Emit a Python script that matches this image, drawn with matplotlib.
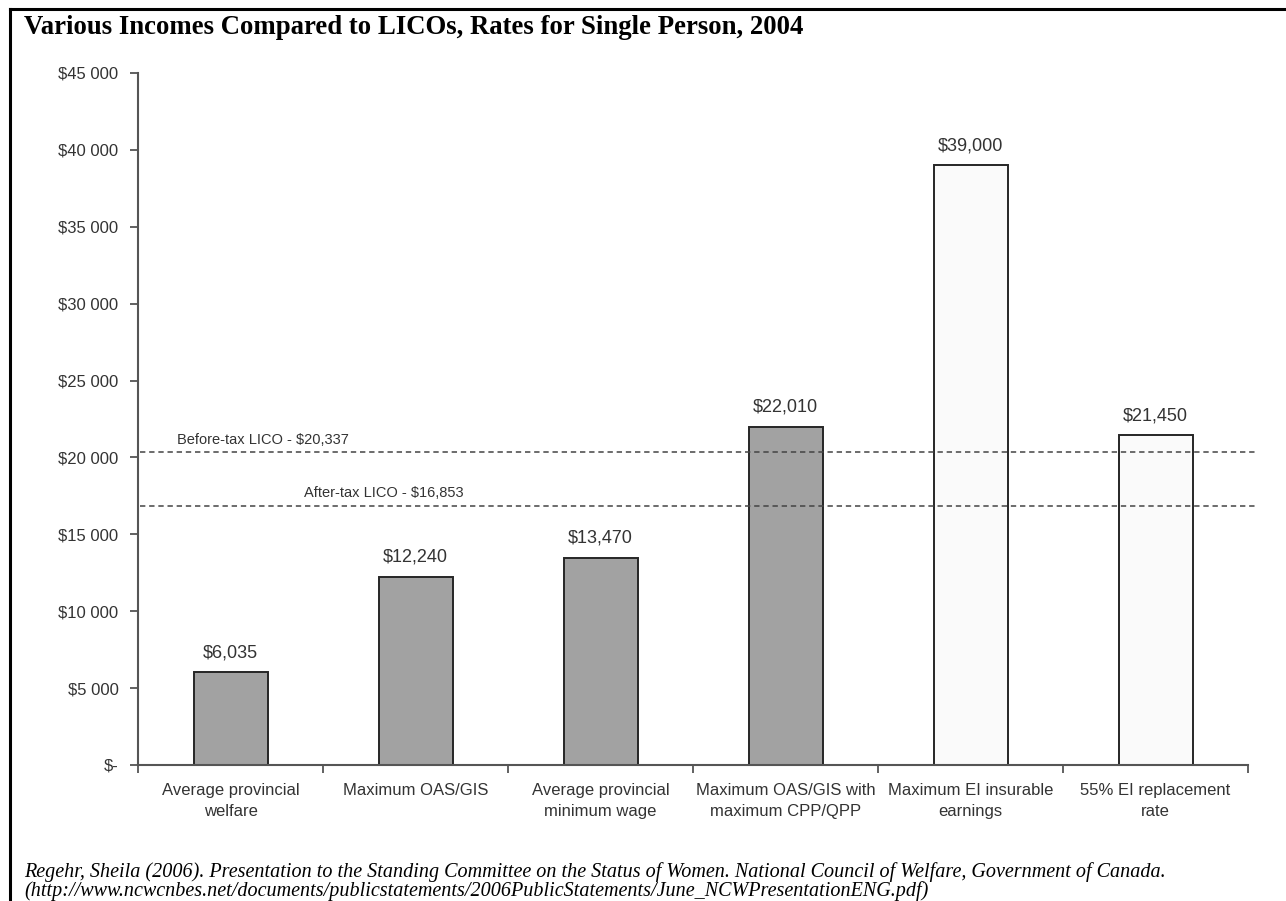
import matplotlib.pyplot as plt
from matplotlib.lines import Line2D
from matplotlib.ticker import FuncFormatter
import numpy as np

plt.rcParams['font.family'] = ['Liberation Sans', 'DejaVu Sans']

# incomes for a single person, 2004
categories = ['Average provincial\nwelfare', 'Maximum OAS/GIS',
              'Average provincial\nminimum wage', 'Maximum OAS/GIS with\nmaximum CPP/QPP',
              'Maximum EI insurable\nearnings', '55% EI replacement\nrate']
incomes = [6035, 12240, 13470, 22010, 39000, 21450]
bar_colors = ['#a2a2a2', '#a2a2a2', '#a2a2a2', '#a2a2a2', '#fafafa', '#fafafa']

# low income cut-offs
lico_labels = ['Before-tax LICO - $20,337', 'After-tax LICO - $16,853']
lico_values = [20337, 16853]
lico_label_x = [0.035, 0.150]

title = 'Various Incomes Compared to LICOs, Rates for Single Person, 2004'
source_lines = ['Regehr, Sheila (2006). Presentation to the Standing Committee on the Status of Women. '
                'National Council of Welfare, Government of Canada.',
                '(http://www.ncwcnbes.net/documents/publicstatements/2006PublicStatements/June_NCWPresentationENG.pdf)']

fig = plt.figure(figsize=(12.86, 9.01), dpi=100)
ax = fig.add_axes([138/1286, 136/901, 1110/1286, 692/901])

x = np.arange(len(categories))
ax.bar(x, incomes, width=0.4, color=bar_colors, edgecolor='#262626', linewidth=1.4, zorder=2)

for xi, v in zip(x, incomes):
    ax.annotate('${:,}'.format(v), (xi, v), xytext=(0, 8), textcoords='offset points',
                ha='center', va='bottom', fontsize=13, color='#333333')

for lab, val, lx in zip(lico_labels, lico_values, lico_label_x):
    ax.axhline(val, xmin=0.002, xmax=1.008, color='#444444', linestyle=(0, (3.5, 2.5)),
               linewidth=1.1, zorder=3, clip_on=False)
    ax.annotate(lab, (lx, val), xycoords=('axes fraction', 'data'), xytext=(0, 4),
                textcoords='offset points', ha='left', va='bottom', fontsize=10.5, color='#333333')

ax.set_xlim(-0.5, 5.5)
ax.set_ylim(0, 45000)
ax.set_yticks(np.arange(0, 45001, 5000))
ax.yaxis.set_major_formatter(FuncFormatter(
    lambda v, p: '$-' if v == 0 else '${:,}'.format(int(v)).replace(',', ' ')))
ax.tick_params(axis='y', length=6, width=1.3, color='#555555', pad=8, labelsize=12,
               labelcolor='#333333')

# category boundaries get the ticks, labels sit at the centres
ax.set_xticks(np.arange(-0.5, 6, 1))
ax.set_xticklabels([])
ax.set_xticks(x, minor=True)
ax.set_xticklabels(categories, minor=True, fontsize=12, color='#333333', linespacing=1.5)
ax.tick_params(axis='x', which='major', length=6, width=1.3, color='#555555')
ax.tick_params(axis='x', which='minor', length=0, pad=13)

for s in ['top', 'right']:
    ax.spines[s].set_visible(False)
for s in ['left', 'bottom']:
    ax.spines[s].set_color('#555555')
    ax.spines[s].set_linewidth(1.5)

fig.text(24/1286, 1 - 28/901, title, fontsize=19.3, fontweight='bold',
         family='Liberation Serif', ha='left', va='center')
for i, line in enumerate(source_lines):
    fig.text(24/1286, 1 - (872 + 19*i)/901, line, fontsize=14.5, style='italic',
             family='Liberation Serif', ha='left', va='center')

# frame lines on the top and left edges
fig.add_artist(Line2D([10/1286, 10/1286], [0, 1 - 9/901], color='black', linewidth=2.2,
                      transform=fig.transFigure))
fig.add_artist(Line2D([10/1286, 1], [1 - 9/901, 1 - 9/901], color='black', linewidth=2.2,
                      transform=fig.transFigure))

fig.savefig('out.png', dpi=100)
